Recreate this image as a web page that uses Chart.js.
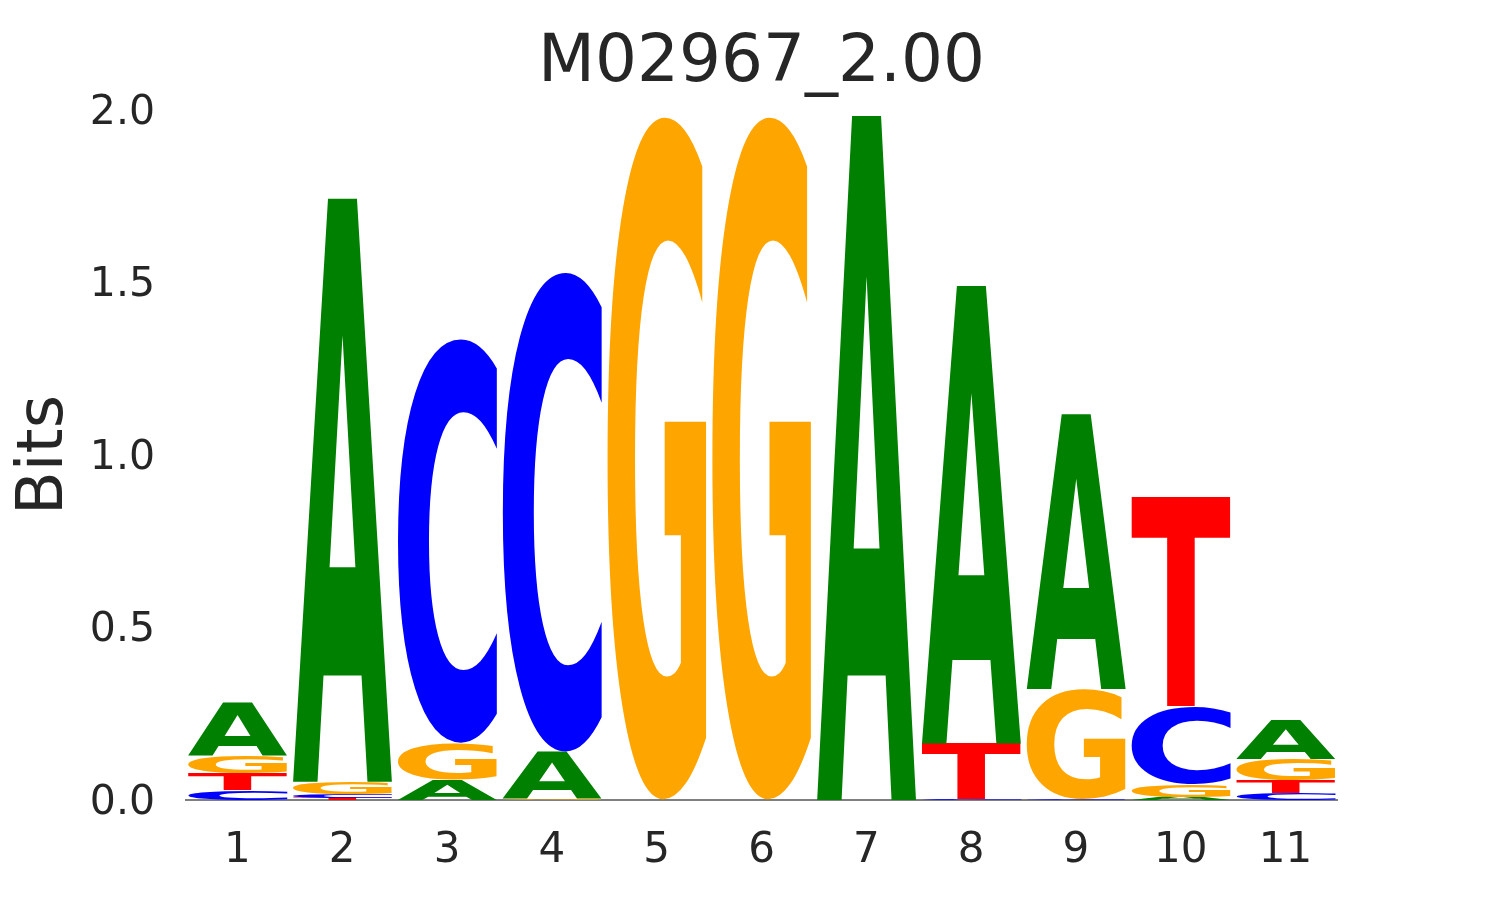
<!DOCTYPE html>
<html>
<head>
<meta charset="utf-8">
<script src="https://cdn.jsdelivr.net/npm/chart.js@4.4.1/dist/chart.umd.min.js"></script>
<style>
html,body{margin:0;padding:0;background:#fff;}
#wrap{width:1485px;height:900px;}
</style>
</head>
<body>
<div id="wrap"><canvas id="c" width="1485" height="900"></canvas></div>
<script>
const positions = ['1','2','3','4','5','6','7','8','9','10','11'];
const bitsA = [0.153, 1.692, 0.058, 0.136, 0.000, 0.000, 1.985, 1.328, 0.797, 0.009, 0.113];
const bitsC = [0.029, 0.012, 1.174, 1.394, 0.000, 0.000, 0.000, 0.002, 0.003, 0.224, 0.020];
const bitsG = [0.051, 0.035, 0.107, 0.003, 1.985, 1.985, 0.000, 0.000, 0.319, 0.035, 0.061];
const bitsT = [0.048, 0.006, 0.000, 0.000, 0.000, 0.000, 0.000, 0.162, 0.000, 0.611, 0.038];
const yTicks = [0, 0.5, 1.0, 1.5, 2.0];
const titleText = 'M02967_2.00';
const yLabel = 'Bits';

const baseColors = {A:'#008000', C:'#0000ff', G:'#ffa500', T:'#ff0000'};
const series = {A: bitsA, C: bitsC, G: bitsG, T: bitsT};
const textColor = '#262626';
const FONT = '"DejaVu Sans", sans-serif';

const logoPlugin = {
  id: 'logo',
  afterDatasetsDraw(chart) {
    const ctx = chart.ctx;
    const xs = chart.scales.x, ys = chart.scales.y;
    const colW = xs.getPixelForValue(1) - xs.getPixelForValue(0);
    const lw = colW * 0.95;
    ctx.save();
    const y0px = ys.getPixelForValue(0);
    ctx.strokeStyle = '#000';
    ctx.lineWidth = 1.2;
    ctx.beginPath();
    ctx.moveTo(chart.chartArea.left, y0px);
    ctx.lineTo(chart.chartArea.right, y0px);
    ctx.stroke();
    ctx.font = 'bold 200px ' + FONT;
    ctx.textAlign = 'left';
    ctx.textBaseline = 'alphabetic';
    positions.forEach((p, i) => {
      const items = Object.keys(series).map(b => ({b, h: series[b][i]})).filter(d => d.h > 0);
      items.sort((a, b) => a.h - b.h);
      let cum = 0;
      const cx = xs.getPixelForValue(i);
      items.forEach(d => {
        const yb = ys.getPixelForValue(cum);
        const yt = ys.getPixelForValue(cum + d.h);
        cum += d.h;
        const h = yb - yt;
        if (h <= 0) return;
        const m = ctx.measureText(d.b);
        const iw = m.actualBoundingBoxLeft + m.actualBoundingBoxRight;
        const ih = m.actualBoundingBoxAscent + m.actualBoundingBoxDescent;
        ctx.save();
        ctx.translate(cx - lw / 2, yt);
        ctx.scale(lw / iw, h / ih);
        ctx.fillStyle = baseColors[d.b];
        ctx.fillText(d.b, m.actualBoundingBoxLeft, m.actualBoundingBoxAscent);
        ctx.restore();
      });
    });
    ctx.restore();
  }
};

new Chart(document.getElementById('c'), {
  type: 'bar',
  data: {
    labels: positions,
    datasets: Object.keys(series).map(b => ({
      label: b, data: series[b], backgroundColor: 'rgba(0,0,0,0)', borderWidth: 0
    }))
  },
  options: {
    responsive: false,
    devicePixelRatio: 1,
    animation: false,
    layout: {padding: {left: 0, right: 147, top: 0, bottom: 0}},
    plugins: {
      legend: {display: false},
      tooltip: {enabled: false},
      title: {
        display: true, text: titleText, color: textColor, fullSize: false,
        font: {family: FONT, size: 66, weight: 'normal', lineHeight: 1.2},
        padding: {top: 24, bottom: 6.8}
      }
    },
    scales: {
      x: {
        stacked: true,
        grid: {display: false}, border: {display: false},
        ticks: {color: textColor, font: {family: FONT, size: 42}, padding: 18, maxRotation: 0},
        afterFit(s) { s.height = 100; }
      },
      y: {
        stacked: true, min: 0, max: 2.0,
        grid: {display: false}, border: {display: false},
        afterBuildTicks(s) { s.ticks = yTicks.map(v => ({value: v})); },
        ticks: {color: textColor, font: {family: FONT, size: 41}, padding: 22, labelOffset: 3,
          callback: v => Number(v).toFixed(1)},
        title: {display: true, text: yLabel, color: textColor,
          font: {family: FONT, size: 64, lineHeight: 1.2}, padding: {top: 7, bottom: 0}},
        afterFit(s) { s.width = 185; }
      }
    }
  },
  plugins: [logoPlugin]
});
</script>
</body>
</html>
